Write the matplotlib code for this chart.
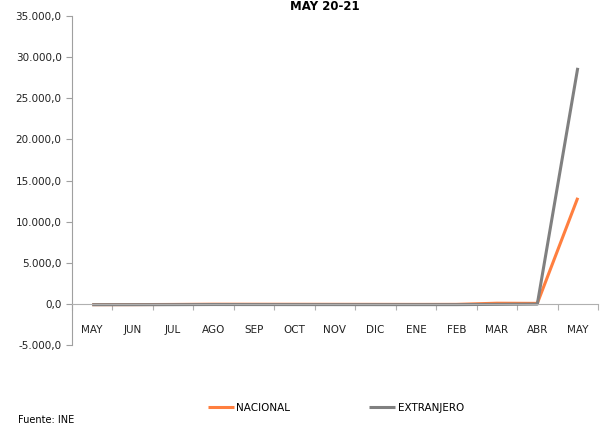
import matplotlib.pyplot as plt
from matplotlib.ticker import FuncFormatter

meses = ['MAY', 'JUN', 'JUL', 'AGO', 'SEP', 'OCT', 'NOV', 'DIC', 'ENE', 'FEB', 'MAR', 'ABR', 'MAY']
nacional = [-95, -90, -70, -40, -45, -50, -55, -60, -65, -60, 80, 60, 12900]
extranjero = [-99, -98, -95, -80, -85, -88, -90, -92, -93, -92, -60, -30, 28700]


def fmt_es(v, pos):
    s = f"{v:,.1f}"
    return s.replace(',', 'X').replace('.', ',').replace('X', '.')


def main():
    fig = plt.figure(figsize=(6.01, 4.25), dpi=100)
    ax = fig.add_axes([72 / 601, 1 - 345 / 425, 526 / 601, 329 / 425])

    x = list(range(len(meses)))
    ax.plot(x, nacional, color='#FF7F3F', lw=2.2, label='NACIONAL', solid_capstyle='butt')
    ax.plot(x, extranjero, color='#808080', lw=2.2, label='EXTRANJERO', solid_capstyle='butt')

    ax.set_xlim(-0.5, len(meses) - 0.5)
    ax.set_ylim(-5000, 35000)
    ax.set_yticks(range(-5000, 35001, 5000))
    ax.yaxis.set_major_formatter(FuncFormatter(fmt_es))

    # ticks between categories, labels centred on categories
    ax.set_xticks([i - 0.5 for i in range(len(meses) + 1)])
    ax.set_xticklabels([])
    ax.set_xticks(x, minor=True)
    ax.set_xticklabels(meses, minor=True)

    for s in ['top', 'right']:
        ax.spines[s].set_visible(False)
    ax.spines['left'].set_color('#A0A0A0')
    ax.spines['bottom'].set_color('#B0B0B0')
    ax.spines['bottom'].set_position(('data', 0))

    ax.tick_params(axis='y', colors='#A0A0A0', labelcolor='#222222', labelsize=7.5, length=4)
    ax.tick_params(axis='x', which='major', colors='#B0B0B0', length=4, direction='out')
    ax.tick_params(axis='x', which='minor', length=0, pad=15.5, labelsize=7.5, labelcolor='#222222')

    fig.text(325 / 601, 1 - 0.5 / 425, 'MAY 20-21', ha='center', va='top',
             fontsize=8.5, fontweight='bold')

    fig.legend(loc='center', bbox_to_anchor=(336 / 601, 1 - 408 / 425), ncol=2,
               frameon=False, fontsize=7.5, handlelength=2.5, handletextpad=0.25,
               columnspacing=7.6)

    fig.text(18 / 601, 1 - 420 / 425, 'Fuente: INE', ha='left', va='center', fontsize=7)

    fig.savefig('out.png', dpi=100)


if __name__ == "__main__":
    main()
